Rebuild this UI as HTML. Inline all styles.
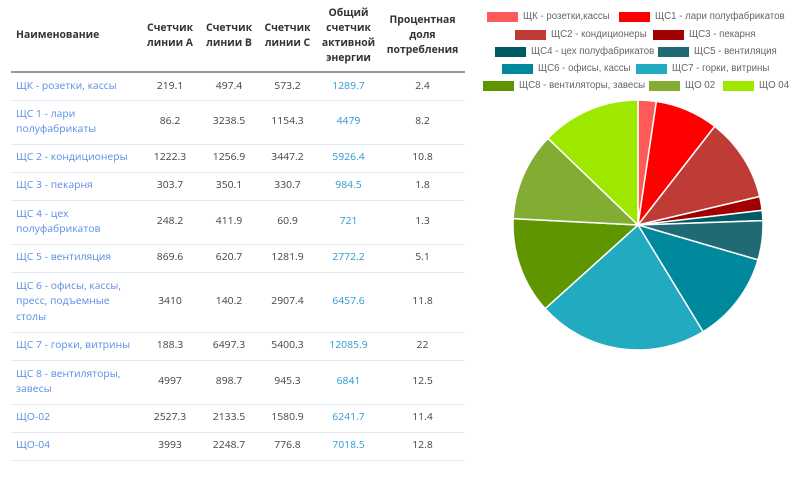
<!DOCTYPE html>
<html><head><meta charset="utf-8"><style>
body{margin:0;width:800px;height:480px;background:#fff;font-family:"Open Sans","DejaVu Sans","Liberation Sans",sans-serif;overflow:hidden;position:relative}
table{position:absolute;left:11px;top:0;border-collapse:collapse;font-size:10.4px;table-layout:fixed}
th{font-weight:bold;color:#333;height:71px;border-bottom:2px solid #999;line-height:15px;padding:0;text-align:center;vertical-align:middle;font-size:10.4px}
th.n{text-align:left;padding-left:5px}
td{border-bottom:1px solid #e3e6f3;padding:0;text-align:center;color:#444;line-height:15.5px;vertical-align:middle}
td.n{text-align:left;padding-left:5px;color:#5b8ee6}
td.t{color:#2d9bd2}
.leg{position:absolute;font-size:9.7px;color:#666;font-family:"Liberation Sans",sans-serif;white-space:nowrap}
.sw{position:absolute;width:31px;height:10px}
</style></head><body>
<table>
<colgroup><col style="width:129px"><col style="width:60px"><col style="width:58px"><col style="width:59px"><col style="width:63px"><col style="width:85px"></colgroup>
<tr><th class="n">Наименование</th><th>Счетчик линии A</th><th>Счетчик линии B</th><th>Счетчик линии C</th><th>Общий счетчик активной энергии</th><th>Процентная доля потребления</th></tr>
<tr style="height:28px"><td class="n">ЩК - розетки, кассы</td><td>219.1</td><td>497.4</td><td>573.2</td><td class="t">1289.7</td><td>2.4</td></tr>
<tr style="height:44px"><td class="n">ЩС 1 - лари полуфабрикаты</td><td>86.2</td><td>3238.5</td><td>1154.3</td><td class="t">4479</td><td>8.2</td></tr>
<tr style="height:28px"><td class="n">ЩС 2 - кондиционеры</td><td>1222.3</td><td>1256.9</td><td>3447.2</td><td class="t">5926.4</td><td>10.8</td></tr>
<tr style="height:28px"><td class="n">ЩС 3 - пекарня</td><td>303.7</td><td>350.1</td><td>330.7</td><td class="t">984.5</td><td>1.8</td></tr>
<tr style="height:44px"><td class="n">ЩС 4 - цех полуфабрикатов</td><td>248.2</td><td>411.9</td><td>60.9</td><td class="t">721</td><td>1.3</td></tr>
<tr style="height:28px"><td class="n">ЩС 5 - вентиляция</td><td>869.6</td><td>620.7</td><td>1281.9</td><td class="t">2772.2</td><td>5.1</td></tr>
<tr style="height:60px"><td class="n">ЩС 6 - офисы, кассы, пресс, подъемные столы</td><td>3410</td><td>140.2</td><td>2907.4</td><td class="t">6457.6</td><td>11.8</td></tr>
<tr style="height:28px"><td class="n">ЩС 7 - горки, витрины</td><td>188.3</td><td>6497.3</td><td>5400.3</td><td class="t">12085.9</td><td>22</td></tr>
<tr style="height:44px"><td class="n">ЩС 8 - вентиляторы, завесы</td><td>4997</td><td>898.7</td><td>945.3</td><td class="t">6841</td><td>12.5</td></tr>
<tr style="height:28px"><td class="n">ЩО-02</td><td>2527.3</td><td>2133.5</td><td>1580.9</td><td class="t">6241.7</td><td>11.4</td></tr>
<tr style="height:28px"><td class="n">ЩО-04</td><td>3993</td><td>2248.7</td><td>776.8</td><td class="t">7018.5</td><td>12.8</td></tr>
</table>

<div class="sw" style="left:487px;top:12px;background:#ff5a5a"></div><div class="leg" style="left:523px;top:11px">ЩК - розетки,кассы</div>
<div class="sw" style="left:619px;top:12px;background:#ff0000"></div><div class="leg" style="left:655px;top:11px">ЩС1 - лари полуфабрикатов</div>
<div class="sw" style="left:515px;top:30px;background:#bf3b35"></div><div class="leg" style="left:551px;top:29px">ЩС2 - кондиционеры</div>
<div class="sw" style="left:653px;top:30px;background:#a00000"></div><div class="leg" style="left:689px;top:29px">ЩС3 - пекарня</div>
<div class="sw" style="left:495px;top:47px;background:#005a64"></div><div class="leg" style="left:531px;top:46px">ЩС4 - цех полуфабрикатов</div>
<div class="sw" style="left:658px;top:47px;background:#1f6a74"></div><div class="leg" style="left:694px;top:46px">ЩС5 - вентиляция</div>
<div class="sw" style="left:502px;top:64px;background:#00899c"></div><div class="leg" style="left:538px;top:63px">ЩС6 - офисы, кассы</div>
<div class="sw" style="left:636px;top:64px;background:#22aac0"></div><div class="leg" style="left:672px;top:63px">ЩС7 - горки, витрины</div>
<div class="sw" style="left:483px;top:81px;background:#5f9600"></div><div class="leg" style="left:519px;top:80px">ЩС8 - вентиляторы, завесы</div>
<div class="sw" style="left:649px;top:81px;background:#82ad32"></div><div class="leg" style="left:685px;top:80px">ЩО 02</div>
<div class="sw" style="left:723px;top:81px;background:#9ee800"></div><div class="leg" style="left:759px;top:80px">ЩО 04</div>

<svg id="pie" style="position:absolute;left:0;top:0" width="800" height="480"></svg>
<script>
var v=[1289.7,4479,5926.4,984.5,721,2772.2,6457.6,12085.9,6841,6241.7,7018.5];
var c=["#ff5a5a","#ff0000","#bf3b35","#a00000","#005a64","#1f6a74","#00899c","#22aac0","#5f9600","#82ad32","#9ee800"];
var t=v.reduce(function(a,b){return a+b},0),cx=638,cy=225,r=125,a=-Math.PI/2,s="";
for(var i=0;i<v.length;i++){var b=a+v[i]/t*2*Math.PI;
s+='<path d="M'+cx+','+cy+'L'+(cx+r*Math.cos(a))+','+(cy+r*Math.sin(a))+'A'+r+','+r+' 0 '+(b-a>Math.PI?1:0)+' 1 '+(cx+r*Math.cos(b))+','+(cy+r*Math.sin(b))+'Z" fill="'+c[i]+'" stroke="#fff" stroke-width="1.5"/>';a=b;}
document.getElementById('pie').innerHTML=s;
</script>
</body></html>
